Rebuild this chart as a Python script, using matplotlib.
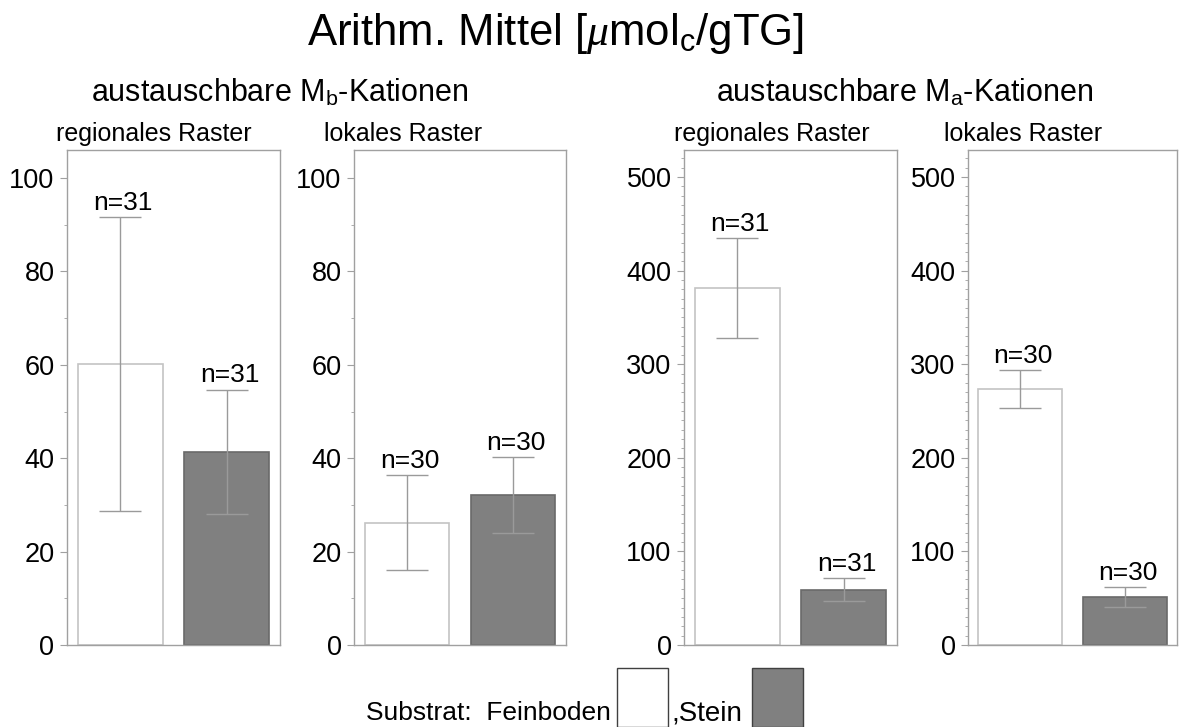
import matplotlib
matplotlib.use('Agg')
import matplotlib.pyplot as plt
from matplotlib.patches import Rectangle
from matplotlib.ticker import MultipleLocator

plt.rcParams['font.family'] = ['Liberation Sans', 'DejaVu Sans']
plt.rcParams['mathtext.fontset'] = 'custom'
plt.rcParams['mathtext.rm'] = 'Liberation Sans'
plt.rcParams['mathtext.it'] = 'Liberation Serif:italic'

# data
substrate = ['Feinboden', 'Stein']
panel_titles = ['regionales Raster', 'lokales Raster', 'regionales Raster', 'lokales Raster']
mb_regional_mean = [60.2, 41.4]
mb_regional_err = [31.4, 13.3]
mb_regional_n = [31, 31]
mb_local_mean = [26.2, 32.1]
mb_local_err = [10.2, 8.2]
mb_local_n = [30, 30]
ma_regional_mean = [381.3, 58.8]
ma_regional_err = [53.5, 12.3]
ma_regional_n = [31, 31]
ma_local_mean = [273.2, 51.7]
ma_local_err = [20.4, 10.7]
ma_local_n = [30, 30]

W, H = 1182, 727
fig = plt.figure(figsize=(W / 100, H / 100), dpi=100)


def rect(x0, x1, y0=150, y1=645):
    return [x0 / W, 1 - y1 / H, (x1 - x0) / W, (y1 - y0) / H]


panels = [
    (rect(67, 280), mb_regional_mean, mb_regional_err, mb_regional_n, 106, 20, 10, 154),
    (rect(354, 566), mb_local_mean, mb_local_err, mb_local_n, 106, 20, 10, 403),
    (rect(684, 897), ma_regional_mean, ma_regional_err, ma_regional_n, 529, 100, 10, 772),
    (rect(968, 1177), ma_local_mean, ma_local_err, ma_local_n, 529, 100, 10, 1023),
]

frame_col = '#a0a0a0'
for (pos, means, errs, ns, ymax, major, minor, tx), title in zip(panels, panel_titles):
    ax = fig.add_axes(pos)
    x = list(range(len(substrate)))
    ax.bar(x, means, width=0.8, color=['white', '#808080'],
           edgecolor=['#c4c4c4', '#6a6a6a'], linewidth=1.2, zorder=2)
    ax.errorbar(x, means, yerr=errs, fmt='none', ecolor='#9a9a9a',
                elinewidth=1.0, capsize=15, capthick=1.0, zorder=3)
    for xi, m, e, n in zip(x, means, errs, ns):
        ax.annotate(f'n={n}', (xi, m + e), xytext=(2, 1.5), textcoords='offset points',
                    ha='center', va='bottom', fontsize=19)
    ax.set_xlim(-0.5, 1.5)
    ax.set_ylim(0, ymax)
    ax.set_xticks([])
    ax.yaxis.set_major_locator(MultipleLocator(major))
    ax.yaxis.set_minor_locator(MultipleLocator(minor))
    ax.tick_params(axis='y', which='major', length=5, width=0.8, color=frame_col,
                   labelsize=19.5, pad=4)
    ax.tick_params(axis='y', which='minor', length=2.5, width=0.6, color=frame_col)
    for sp in ax.spines.values():
        sp.set_color(frame_col)
        sp.set_linewidth(1.0)
    fig.text(tx / W, 1 - 141 / H, title, ha='center', va='baseline', fontsize=18)

fig.text(556 / W, 1 - 45 / H, r'Arithm. Mittel [$\mu$mol$_\mathrm{c}$/gTG]',
         ha='center', va='baseline', fontsize=31.5)
fig.text(280 / W, 1 - 101 / H, r'austauschbare M$_\mathrm{b}$-Kationen',
         ha='center', va='baseline', fontsize=22)
fig.text(905 / W, 1 - 101 / H, r'austauschbare M$_\mathrm{a}$-Kationen',
         ha='center', va='baseline', fontsize=22)

# legend line at the bottom
fig.text(611 / W, 1 - 720 / H, 'Substrat:  Feinboden', ha='right', va='baseline',
         fontsize=19)
fig.text(671 / W, 1 - 720 / H, ',Stein', ha='left', va='baseline', fontsize=20)
fig.patches.append(Rectangle((617 / W, 1 - 727 / H), 51 / W, 59 / H,
                             transform=fig.transFigure, facecolor='white',
                             edgecolor='#404040', linewidth=1.0))
fig.patches.append(Rectangle((752 / W, 1 - 727 / H), 51 / W, 59 / H,
                             transform=fig.transFigure, facecolor='#808080',
                             edgecolor='#404040', linewidth=1.0))

fig.savefig('out.png', dpi=100)
